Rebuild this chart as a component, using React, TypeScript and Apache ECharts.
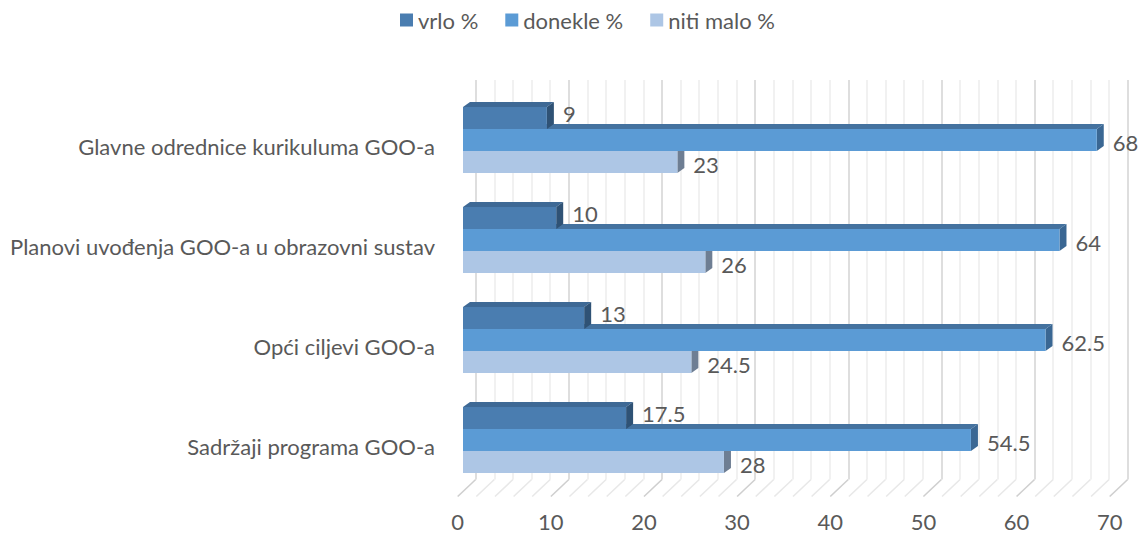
import React, { useEffect, useRef } from "react";
import * as echarts from "echarts";

const categories = [
  "Glavne odrednice kurikuluma GOO-a",
  "Planovi uvođenja GOO-a u obrazovni sustav",
  "Opći ciljevi GOO-a",
  "Sadržaji programa GOO-a",
];
const vrlo = [9, 10, 13, 17.5];
const donekle = [68, 64, 62.5, 54.5];
const nitiMalo = [23, 26, 24.5, 28];
const seriesNames = ["vrlo %", "donekle %", "niti malo %"];
const floorTicks = [
  0, 2, 4, 6, 8, 10, 12, 14, 16, 18, 20, 22, 24, 26, 28, 30, 32, 34, 36, 38,
  40, 42, 44, 46, 48, 50, 52, 54, 56, 58, 60, 62, 64, 66, 68, 70,
];

const FONT = "Lato";
const TEXT = "#595959";
const FS = 22;

const palettes = [
  { front: "#4a7db0", top: "#3e6995", side: "#2f5275", labelDy: -5 },
  { front: "#5b9bd5", top: "#44729f", side: "#3a6793", labelDy: 2 },
  { front: "#adc6e5", top: "#8aa3c2", side: "#6e7e93", labelDy: 2 },
];

const DX = 7;
const DY = 5;

function makeBarSeries(idx: number, values: number[]) {
  const pal = palettes[idx];
  return {
    type: "custom",
    name: seriesNames[idx],
    xAxisIndex: 0,
    yAxisIndex: 0,
    z: 10 - idx,
    itemStyle: { color: pal.front },
    encode: { x: 0, y: 1 },
    data: values.map((v, i) => [v, i]),
    renderItem: (params: any, api: any) => {
      const v = api.value(0);
      const c = api.value(1);
      const p0 = api.coord([0, c]);
      const p1 = api.coord([v, c]);
      const band = api.size([0, 1])[1];
      const barH = (band * 0.66) / 3;
      const top = p0[1] - band * 0.33 + idx * barH;
      const x0 = p0[0];
      const x1 = p1[0];
      return {
        type: "group",
        children: [
          {
            type: "polygon",
            shape: {
              points: [
                [x0, top],
                [x1, top],
                [x1 + DX, top - DY],
                [x0 + DX, top - DY],
              ],
            },
            style: { fill: pal.top },
          },
          {
            type: "polygon",
            shape: {
              points: [
                [x1, top],
                [x1 + DX, top - DY],
                [x1 + DX, top + barH - DY],
                [x1, top + barH],
              ],
            },
            style: { fill: pal.side },
          },
          {
            type: "rect",
            shape: { x: x0, y: top, width: x1 - x0, height: barH },
            style: { fill: pal.front },
          },
          {
            type: "text",
            x: x1 + DX + 9,
            y: top + barH / 2 + pal.labelDy,
            style: {
              text: String(v),
              fill: TEXT,
              font: `${FS}px ${FONT}`,
              textAlign: "left",
              textVerticalAlign: "middle",
            },
          },
        ],
      };
    },
  };
}

export default function App() {
  const ref = useRef<HTMLDivElement>(null);
  useEffect(() => {
    if (!ref.current) return;
    const chart = echarts.init(ref.current, undefined, { renderer: "svg" });
    const option: any = {
      animation: false,
      backgroundColor: "#ffffff",
      textStyle: { fontFamily: FONT, color: TEXT },
      legend: {
        data: seriesNames,
        left: 400,
        top: 9,
        padding: 0,
        icon: "rect",
        itemWidth: 13,
        itemHeight: 13,
        itemGap: 27,
        textStyle: { fontFamily: FONT, fontSize: FS, color: TEXT },
      },
      grid: [
        { left: 463, right: 22.6, top: 90, bottom: 45 },
        { left: 475.7, right: 10.3, top: 80, bottom: 55.5 },
        { left: 457.7, right: 28.3, top: 479.5, bottom: 38.5 },
      ],
      xAxis: [
        {
          gridIndex: 0,
          type: "value",
          min: 0,
          max: 70,
          interval: 10,
          show: false,
        },
        {
          gridIndex: 1,
          type: "value",
          min: 0,
          max: 70,
          interval: 10,
          axisLine: { show: false },
          axisTick: { show: false },
          axisLabel: { show: false },
          splitLine: { show: true, lineStyle: { color: "#d6d6d6", width: 1.6 } },
          minorTick: { show: false, splitNumber: 5 },
          minorSplitLine: { show: true, lineStyle: { color: "#eeeeee", width: 1.6 } },
        },
        {
          gridIndex: 2,
          type: "value",
          min: 0,
          max: 70,
          interval: 10,
          axisLine: { show: false },
          axisTick: { show: false },
          splitLine: { show: false },
          axisLabel: {
            show: true,
            margin: 25,
            verticalAlign: "middle",
            lineHeight: 18,
            fontFamily: FONT,
            fontSize: FS,
            color: TEXT,
          },
        },
      ],
      yAxis: [
        {
          gridIndex: 0,
          type: "category",
          data: categories,
          inverse: true,
          axisLine: { show: false },
          axisTick: { show: false },
          splitLine: { show: false },
          axisLabel: {
            margin: 28,
            fontFamily: FONT,
            fontSize: FS,
            color: TEXT,
            verticalAlign: "top",
            lineHeight: 12,
          },
        },
        { gridIndex: 1, type: "value", min: 0, max: 1, show: false },
        { gridIndex: 2, type: "value", min: 0, max: 1, show: false },
      ],
      series: [
        {
          type: "custom",
          name: "floor",
          xAxisIndex: 2,
          yAxisIndex: 2,
          silent: true,
          z: 1,
          encode: { x: 0 },
          data: floorTicks.map((t) => [t]),
          renderItem: (params: any, api: any) => {
            const v = api.value(0);
            const front = api.coord([v, 0]);
            const back = api.coord([v, 1]);
            const offset = 18;
            const major = v % 10 === 0;
            return {
              type: "line",
              shape: {
                x1: back[0] + offset,
                y1: back[1],
                x2: front[0],
                y2: front[1],
              },
              style: {
                stroke: major ? "#cfcfcf" : "#e8e8e8",
                lineWidth: 1.6,
              },
            };
          },
        },
        makeBarSeries(0, vrlo),
        makeBarSeries(1, donekle),
        makeBarSeries(2, nitiMalo),
      ],
    };
    chart.setOption(option);
    return () => chart.dispose();
  }, []);
  return (
    <div
      ref={ref}
      style={{ position: "absolute", left: 0, top: 0, width: 1138, height: 535 }}
    />
  );
}
